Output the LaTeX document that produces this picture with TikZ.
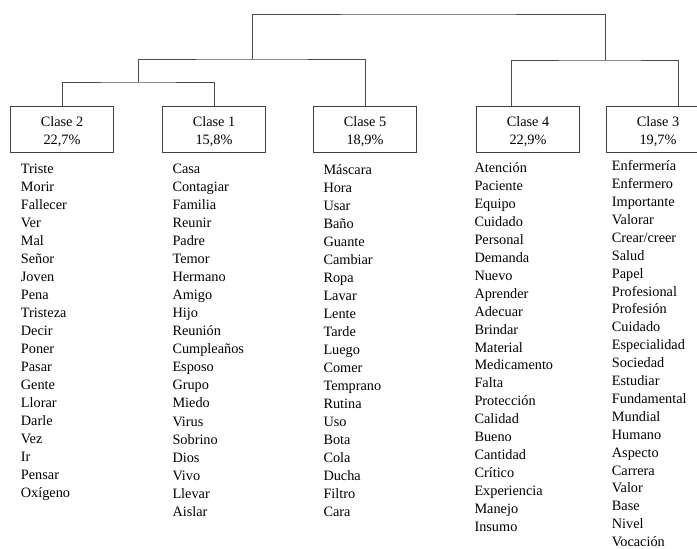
\documentclass[tikz,border=0pt]{standalone}
\usepackage{fontspec}
\setmainfont{Liberation Serif}
\begin{document}
\begin{tikzpicture}[x=1pt,y=-1pt,
  clbox/.style={draw=black!75,line width=0.9pt,minimum width=103pt,minimum height=46pt,
    align=center,inner sep=0pt,font=\fontsize{14.3}{18}\selectfont},
  link/.style={draw=black!70,line width=0.9pt},
  word/.style={anchor=base west,inner sep=0pt,font=\fontsize{14.3}{18}\selectfont}]
\useasboundingbox (0,0) rectangle (697,549);
% class boxes
\node[clbox] (c2) at (62,129) {\rule{0pt}{16pt}Clase 2\\22,7\%};
\node[clbox] (c1) at (214,129) {\rule{0pt}{16pt}Clase 1\\15,8\%};
\node[clbox] (c5) at (365,129) {\rule{0pt}{16pt}Clase 5\\18,9\%};
\node[clbox] (c4) at (528,129) {\rule{0pt}{16pt}Clase 4\\22,9\%};
\node[clbox] (c3) at (658,129) {\rule{0pt}{16pt}Clase 3\\19,7\%};
% junctions
\coordinate (b3) at (138,82);
\coordinate (b2) at (252,59);
\coordinate (top) at (428,14);
\coordinate (b4) at (605,60);
\coordinate (c4t) at (511,106);
\coordinate (c3t) at (678,106);
% dendrogram
\draw[link] (c2.north) |- (b3) -| (c1.north);
\draw[link] (b3) |- (b2) -| (c5.north);
\draw[link] (b2) |- (top) -| (b4);
\draw[link] (c4t) |- (b4) -| (c3t);
% word lists
\foreach \w [count=\i from 0] in {Triste,Morir,Fallecer,Ver,Mal,Señor,Joven,Pena,Tristeza,Decir,Poner,Pasar,Gente,Llorar,Darle,Vez,Ir,Pensar,Oxígeno}
  \node[word] (wa\i) at (20.7,173+18*\i) {\w};
\foreach \w [count=\i from 0] in {Casa,Contagiar,Familia,Reunir,Padre,Temor,Hermano,Amigo,Hijo,Reunión,Cumpleaños,Esposo,Grupo,Miedo,Virus,Sobrino,Dios,Vivo,Llevar,Aislar}
  \node[word] (wb\i) at (172.3,173.3+18.05*\i) {\w};
\foreach \w [count=\i from 0] in {Máscara,Hora,Usar,Baño,Guante,Cambiar,Ropa,Lavar,Lente,Tarde,Luego,Comer,Temprano,Rutina,Uso,Bota,Cola,Ducha,Filtro,Cara}
  \node[word] (wc\i) at (323.3,174+18*\i) {\w};
\foreach \w [count=\i from 0] in {Atención,Paciente,Equipo,Cuidado,Personal,Demanda,Nuevo,Aprender,Adecuar,Brindar,Material,Medicamento,Falta,Protección,Calidad,Bueno,Cantidad,Crítico,Experiencia,Manejo,Insumo}
  \node[word] (wd\i) at (474.3,172.3+17.97*\i) {\w};
\foreach \w [count=\i from 0] in {Enfermería,Enfermero,Importante,Valorar,Crear/creer,Salud,Papel,Profesional,Profesión,Cuidado,Especialidad,Sociedad,Estudiar,Fundamental,Mundial,Humano,Aspecto,Carrera,Valor,Base,Nivel,Vocación}
  \node[word] (we\i) at (611.7,170.7+17.9*\i) {\w};
\end{tikzpicture}
\end{document}
